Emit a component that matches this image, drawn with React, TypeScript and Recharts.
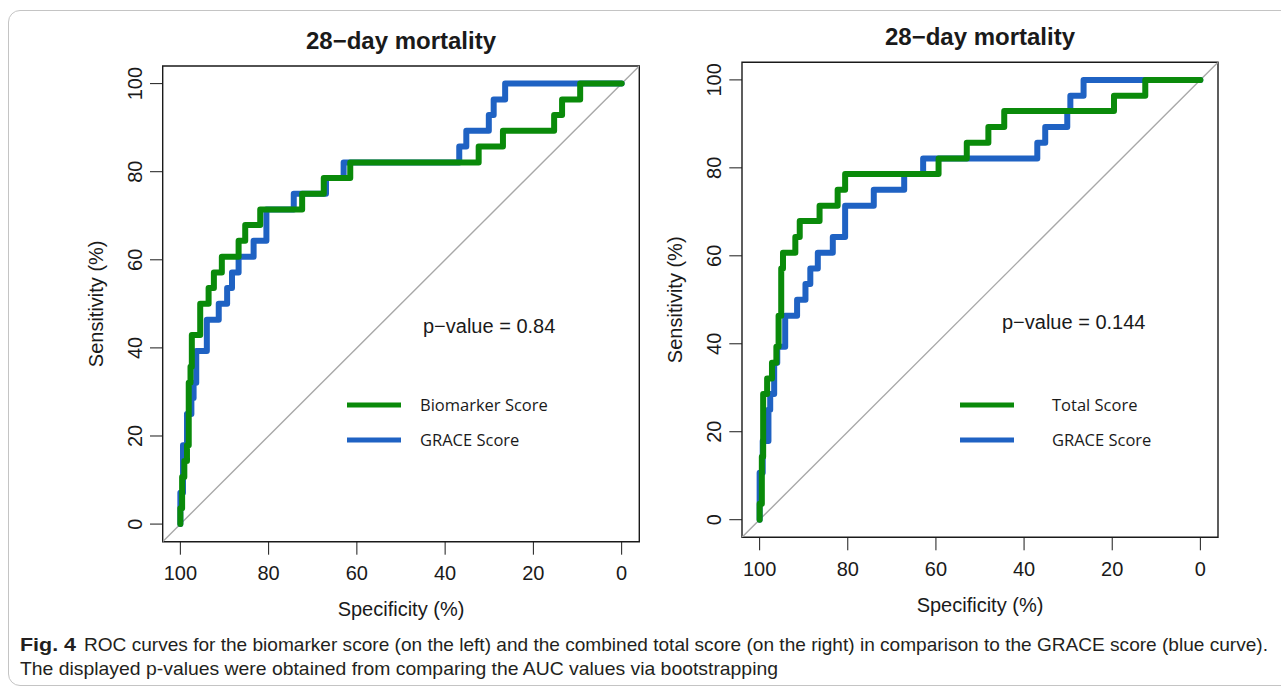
import React from "react";
import { LineChart, Line, XAxis, YAxis, ReferenceArea } from "recharts";

const TICKS = [0, 20, 40, 60, 80, 100];
const GREEN = "#0a8a0a";
const BLUE = "#1f62c3";
const DIAG = "#a8a8a8";
const INK = "#1a1a1a";
const PLOT_FONT = "'Liberation Sans', Arial, sans-serif";

// step curves: each point = (specificity where the curve leaves the level, sensitivity level)
const bioSpec = [100, 99.6, 99.1, 98.5, 98.1, 97.7, 97.4, 95.5, 93.6, 92.4, 90.6, 86.8, 85.3, 81.9, 72.4, 67.5, 61.5, 32.4, 26.9, 15.3, 13.5, 9.4, 0];
const bioSens = [0, 3.6, 10.7, 14.3, 17.9, 32.1, 35.7, 42.9, 50.0, 53.6, 57.1, 60.7, 64.3, 67.9, 71.4, 75.0, 78.6, 82.1, 85.7, 89.3, 92.9, 96.4, 100];

const graceLeftSpec = [100, 99.4, 98.5, 97.5, 97.0, 96.4, 94.0, 91.3, 89.4, 88.3, 86.8, 83.4, 80.5, 74.3, 67.0, 63.0, 36.8, 35.2, 30.1, 29.0, 26.4, 0];
const graceLeftSens = [0, 7.1, 17.9, 25.0, 28.6, 32.1, 39.3, 46.4, 50.0, 53.6, 57.1, 60.7, 64.3, 71.4, 75.0, 78.6, 82.1, 85.7, 89.3, 92.9, 96.4, 100];

const totalSpec = [100, 99.5, 99.2, 98.3, 97.2, 96.2, 95.7, 95.1, 94.7, 91.9, 90.9, 86.4, 82.3, 80.6, 59.4, 53.0, 48.1, 44.5, 19.6, 12.5, 0];
const totalSens = [0, 3.6, 14.3, 28.6, 32.1, 35.7, 39.3, 46.4, 57.1, 60.7, 64.3, 67.9, 71.4, 75.0, 78.6, 82.1, 85.7, 89.3, 92.9, 96.4, 100];

const graceRightSpec = [100, 99.3, 98.0, 97.6, 96.7, 96.0, 94.2, 91.5, 89.6, 88.5, 86.8, 83.4, 80.6, 74.1, 67.2, 62.9, 37.0, 35.2, 30.2, 29.5, 26.5, 0];
const graceRightSens = [0, 10.7, 17.9, 25.0, 28.6, 35.7, 39.3, 46.4, 50.0, 53.6, 57.1, 60.7, 64.3, 71.4, 75.0, 78.6, 82.1, 85.7, 89.3, 92.9, 96.4, 100];

const diagSpec = [104, -4];
const diagSens = [-4, 104];

const toRows = (spec: number[], sens: number[]) => spec.map((s, i) => ({ spec: s, sens: sens[i] }));

const XTick = (props: any) => {
  const { x, y, payload } = props;
  return (
    <text x={x} y={y} dy="0.71em" textAnchor="middle" fontSize={20} fill={INK} fontFamily={PLOT_FONT}>
      {payload.value}
    </text>
  );
};

const YTick = (props: any) => {
  const { x, y, payload } = props;
  return (
    <text x={x} y={y} transform={`rotate(-90 ${x} ${y})`} textAnchor="middle" fontSize={20} fill={INK} fontFamily={PLOT_FONT}>
      {payload.value}
    </text>
  );
};

interface Box { x: number; y: number; w: number; h: number }

interface PanelProps {
  left: number;
  width: number;
  box: Box;
  title: string;
  main: { name: string; rows: any[] };
  grace: { name: string; rows: any[] };
  pValue: string;
  pPos: { x: number; y: number };
  legendPos: { x: number; y: number; textX: number };
}

function RocPanel({ left, width, box, title, main, grace, pValue, pPos, legendPos }: PanelProps) {
  const height = 640;
  const margin = {
    top: box.y,
    left: box.x - 60,
    right: width - box.x - box.w,
    bottom: height - box.y - box.h - 60,
  };
  const cx = box.x + box.w / 2;
  const cy = box.y + box.h / 2;
  const bottom = box.y + box.h;

  return (
    <div style={{ position: "absolute", left, top: 0, width, height }}>
      <LineChart width={width} height={height} margin={margin}>
        <XAxis
          type="number"
          dataKey="spec"
          domain={[-4, 104]}
          reversed
          allowDataOverflow
          ticks={TICKS}
          interval={0}
          axisLine={false}
          stroke={INK}
          tickSize={13}
          tickMargin={11}
          tick={XTick}
          height={60}
        />
        <YAxis
          type="number"
          dataKey="sens"
          domain={[-4, 104]}
          allowDataOverflow
          ticks={TICKS}
          interval={0}
          axisLine={false}
          stroke={INK}
          tickSize={12.7}
          tickMargin={8}
          tick={YTick}
          width={60}
        />
        <ReferenceArea x1={-4} x2={104} y1={-4} y2={104} fill="none" stroke={INK} strokeWidth={1.4} ifOverflow="visible" />
        <Line data={toRows(diagSpec, diagSens)} dataKey="sens" type="linear" stroke={DIAG} strokeWidth={1.4} dot={false} isAnimationActive={false} />
        <Line data={grace.rows} dataKey="sens" name={grace.name} type="stepBefore" stroke={BLUE} strokeWidth={6} strokeLinecap="round" strokeLinejoin="round" dot={false} isAnimationActive={false} />
        <Line data={main.rows} dataKey="sens" name={main.name} type="stepBefore" stroke={GREEN} strokeWidth={6} strokeLinecap="round" strokeLinejoin="round" dot={false} isAnimationActive={false} />
      </LineChart>

      <svg width={width} height={height} style={{ position: "absolute", left: 0, top: 0, pointerEvents: "none" }}>
        <text x={cx} y={box.y - 17} textAnchor="middle" fontSize={24} fontWeight="bold" fill={INK} fontFamily={PLOT_FONT}>
          {title}
        </text>
        <text x={cx} y={bottom + 74.5} textAnchor="middle" fontSize={20} fill={INK} fontFamily={PLOT_FONT}>
          Specificity (%)
        </text>
        <text x={box.x - 60} y={cy} transform={`rotate(-90 ${box.x - 60} ${cy})`} textAnchor="middle" fontSize={20} fill={INK} fontFamily={PLOT_FONT}>
          Sensitivity (%)
        </text>
        <text x={pPos.x} y={pPos.y} fontSize={20} fill={INK} fontFamily={PLOT_FONT}>
          {pValue}
        </text>
        <line x1={legendPos.x} x2={legendPos.x + 54} y1={legendPos.y} y2={legendPos.y} stroke={GREEN} strokeWidth={5} />
        <line x1={legendPos.x} x2={legendPos.x + 54} y1={legendPos.y + 35} y2={legendPos.y + 35} stroke={BLUE} strokeWidth={5} />
        <text x={legendPos.textX} y={legendPos.y + 6} fontSize={16.5} fill={INK} fontFamily="'Open Sans', sans-serif">
          {main.name}
        </text>
        <text x={legendPos.textX} y={legendPos.y + 41} fontSize={16.5} fill={INK} fontFamily="'Open Sans', sans-serif">
          {grace.name}
        </text>
      </svg>
    </div>
  );
}

export default function App() {
  return (
    <div style={{ position: "absolute", left: 0, top: 0, width: 1281, height: 689, background: "#fff", overflow: "hidden" }}>
      <div
        style={{
          position: "absolute",
          left: 8,
          top: 10,
          width: 1300,
          height: 676,
          border: "1px solid #c4c4c4",
          borderRadius: 12,
          boxSizing: "border-box",
        }}
      />
      <RocPanel
        left={0}
        width={660}
        box={{ x: 162.7, y: 66, w: 476.6, h: 475.7 }}
        title="28−day mortality"
        main={{ name: "Biomarker Score", rows: toRows(bioSpec, bioSens) }}
        grace={{ name: "GRACE Score", rows: toRows(graceLeftSpec, graceLeftSens) }}
        pValue="p−value = 0.84"
        pPos={{ x: 423, y: 333 }}
        legendPos={{ x: 347, y: 405, textX: 420 }}
      />
      <RocPanel
        left={660}
        width={620}
        box={{ x: 82, y: 62.3, w: 476, h: 475 }}
        title="28−day mortality"
        main={{ name: "Total Score", rows: toRows(totalSpec, totalSens) }}
        grace={{ name: "GRACE Score", rows: toRows(graceRightSpec, graceRightSens) }}
        pValue="p−value = 0.144"
        pPos={{ x: 342, y: 329 }}
        legendPos={{ x: 300, y: 405, textX: 392 }}
      />
      <svg width={1281} height={689} style={{ position: "absolute", left: 0, top: 0, pointerEvents: "none" }}>
        <g fontFamily="'Liberation Sans', Arial, sans-serif" fontSize={19} fill="#231f20">
          <text x={20} y={651} fontWeight="bold" textLength={56} lengthAdjust="spacingAndGlyphs">
            Fig. 4
          </text>
          <text x={84} y={651} textLength={1184} lengthAdjust="spacingAndGlyphs">
            ROC curves for the biomarker score (on the left) and the combined total score (on the right) in comparison to the GRACE score (blue curve).
          </text>
          <text x={20} y={675} textLength={758} lengthAdjust="spacingAndGlyphs">
            The displayed p-values were obtained from comparing the AUC values via bootstrapping
          </text>
        </g>
      </svg>
    </div>
  );
}
